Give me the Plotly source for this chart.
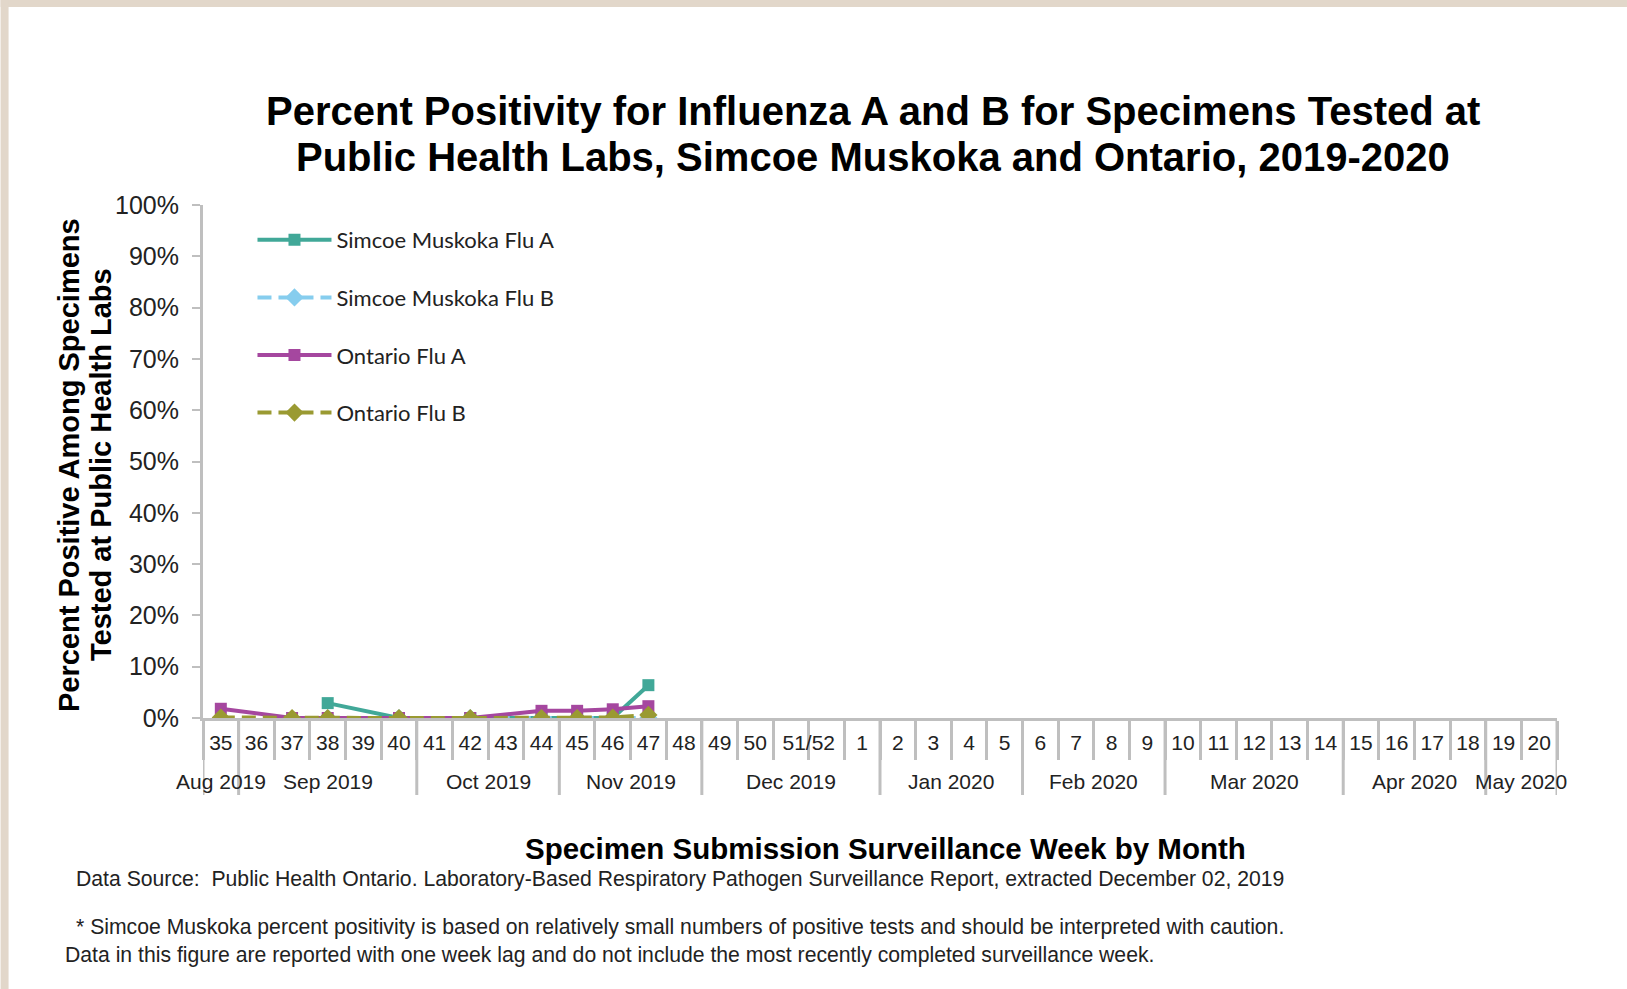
import plotly.graph_objects as go

# ---------------- data ----------------
weeks = ["35", "36", "37", "38", "39", "40", "41", "42", "43", "44", "45", "46", "47", "48",
         "49", "50", "51", "52", "1", "2", "3", "4", "5", "6", "7", "8", "9", "10", "11",
         "12", "13", "14", "15", "16", "17", "18", "19", "20"]
month_labels = ["Aug 2019", "Sep 2019", "Oct 2019", "Nov 2019", "Dec 2019", "Jan 2020",
                "Feb 2020", "Mar 2020", "Apr 2020", "May 2020"]
month_first_week = ["35", "36", "41", "45", "49", "2", "6", "10", "15", "19"]
month_last_week = ["35", "40", "44", "48", "1", "5", "9", "14", "18", "20"]
y_ticks = [0, 10, 20, 30, 40, 50, 60, 70, 80, 90, 100]
y_tick_labels = ["0%", "10%", "20%", "30%", "40%", "50%", "60%", "70%", "80%", "90%", "100%"]

N = None
simcoe_flu_a = [N, N, N, 2.9, N, 0.0, N, 0.0, N, 0.0, 0.0, 0.0, 6.4] + [N] * 25
simcoe_flu_b = [N, N, N, 0.0, N, 0.0, N, 0.0, N, 0.0, 0.0, 0.0, 0.0] + [N] * 25
ontario_flu_a = [1.8, N, 0.0, 0.0, N, 0.0, N, 0.0, N, 1.4, 1.4, 1.7, 2.3] + [N] * 25
ontario_flu_b = [0.1, N, 0.0, 0.0, N, 0.0, N, 0.0, N, 0.0, 0.0, 0.1, 0.6] + [N] * 25

series_names = ["Simcoe Muskoka Flu A", "Simcoe Muskoka Flu B", "Ontario Flu A", "Ontario Flu B"]
series_values = [simcoe_flu_a, simcoe_flu_b, ontario_flu_a, ontario_flu_b]
series_colors = ["#41A898", "#86CDEE", "#A5479F", "#9A9A32"]
series_symbols = ["square", "diamond", "square", "diamond"]
series_dash = ["solid", "14px,7px", "solid", "14px,7px"]

title_lines = ["Percent Positivity for Influenza A and B for Specimens Tested at",
               "Public Health Labs, Simcoe Muskoka and Ontario, 2019-2020"]
y_title_lines = ["Percent Positive Among Specimens", "Tested at Public Health Labs"]
x_title = "Specimen Submission Surveillance Week by Month"
source_text = "Data Source:  Public Health Ontario. Laboratory-Based Respiratory Pathogen Surveillance Report, extracted December 02, 2019"
note_lines = ["* Simcoe Muskoka percent positivity is based on relatively small numbers of positive tests and should be interpreted with caution.",
              "Data in this figure are reported with one week lag and do not include the most recently completed surveillance week."]

# ---------------- layout geometry ----------------
W, H = 1627, 989
L, R = 202.5, 1557.0
T, B = 205.0, 718.0
PW, PH = R - L, B - T


def px(xpix):
    return (xpix - L) / PW


def py(ypix):
    return (B - ypix) / PH


GRAY = "#BFBFBF"
FONT = "Liberation Sans, Arial, sans-serif"

x_idx = list(range(len(weeks)))

fig = go.Figure()
for name, vals, col, sym, dash in zip(series_names, series_values, series_colors,
                                      series_symbols, series_dash):
    fig.add_trace(go.Scatter(
        x=x_idx, y=vals, name=name, mode="lines+markers", connectgaps=True,
        line=dict(color=col, width=4, dash=dash),
        marker=dict(symbol=sym, size=12 if sym == "square" else 14, color=col),
        legendgroup=name,
    ))

# tick labels for weeks (51 and 52 share one label)
tickvals, ticktext = [], []
for i, w in enumerate(weeks):
    if w == "51":
        tickvals.append(i + 0.5)
        ticktext.append("51/52")
    elif w == "52":
        continue
    else:
        tickvals.append(i)
        ticktext.append(w)

shapes = []
annotations = []

# month dividers and labels
boundaries = [-0.5]
for first, last, lab in zip(month_first_week, month_last_week, month_labels):
    a = weeks.index(first) - 0.5
    b = weeks.index(last) + 0.5
    boundaries.append(b)
    annotations.append(dict(x=(a + b) / 2, y=py(781), xref="x", yref="paper", text=lab,
                            showarrow=False, xanchor="center", yanchor="middle",
                            font=dict(size=21, color="#222222", family=FONT)))
for bnd in boundaries:
    shapes.append(dict(type="line", xref="x", yref="paper", x0=bnd, x1=bnd, y0=0,
                       y1=py(795), line=dict(color=GRAY, width=3), layer="below"))

# frame
BEIGE = "#E2D7CA"
shapes.append(dict(type="rect", xref="paper", yref="paper", x0=px(0), x1=px(W), y0=py(0),
                   y1=py(7), fillcolor=BEIGE, line=dict(width=0), layer="below"))
shapes.append(dict(type="rect", xref="paper", yref="paper", x0=px(0), x1=px(8), y0=py(0),
                   y1=py(H), fillcolor=BEIGE, line=dict(width=0), layer="below"))

# titles
for txt, yc in zip(title_lines, [111, 157]):
    annotations.append(dict(x=px(873), y=py(yc), xref="paper", yref="paper", text="<b>%s</b>" % txt,
                            showarrow=False, xanchor="center", yanchor="middle",
                            font=dict(size=40, color="#000000", family=FONT)))
for txt, xc in zip(y_title_lines, [68.5, 100.5]):
    annotations.append(dict(x=px(xc), y=py(465), xref="paper", yref="paper", text="<b>%s</b>" % txt,
                            showarrow=False, xanchor="center", yanchor="middle", textangle=-90,
                            font=dict(size=29, color="#000000", family=FONT)))
annotations.append(dict(x=px(885), y=py(848), xref="paper", yref="paper", text="<b>%s</b>" % x_title,
                        showarrow=False, xanchor="center", yanchor="middle",
                        font=dict(size=29.5, color="#000000", family=FONT)))
annotations.append(dict(x=px(73), y=py(879), xref="paper", yref="paper", text=source_text,
                        showarrow=False, xanchor="left", yanchor="middle",
                        font=dict(size=21.2, color="#222222", family=FONT)))
for txt, xl, yc in zip(note_lines, [73, 62], [927, 955]):
    annotations.append(dict(x=px(xl), y=py(yc), xref="paper", yref="paper", text=txt,
                            showarrow=False, xanchor="left", yanchor="middle",
                            font=dict(size=21.2, color="#222222", family=FONT)))

fig.update_layout(
    width=W, height=H,
    margin=dict(l=L, r=W - R, t=T, b=H - B, pad=0),
    paper_bgcolor="white", plot_bgcolor="white",
    font=dict(family=FONT, color="#222222"),
    showlegend=True,
    legend=dict(x=px(252), y=py(219), xanchor="left", yanchor="top",
                bgcolor="rgba(0,0,0,0)", itemwidth=74, tracegroupgap=26,
                font=dict(family="Lato, Carlito, sans-serif", size=22, color="#222222"),
                traceorder="grouped"),
    shapes=shapes, annotations=annotations,
    xaxis=dict(range=[-0.5, len(weeks) - 0.5], tickmode="array", tickvals=tickvals,
               ticktext=ticktext, ticks="", showgrid=False, zeroline=False,
               showline=True, linecolor=GRAY, linewidth=3,
               tickfont=dict(size=21, color="#222222", family=FONT),
               ticklabelstandoff=4,
               minor=dict(tickmode="array", tickvals=[i - 0.5 for i in range(len(weeks) + 1)],
                          ticks="outside", ticklen=39, tickwidth=3, tickcolor=GRAY,
                          showgrid=False)),
    yaxis=dict(range=[0, 100], tickmode="array", tickvals=y_ticks, ticktext=y_tick_labels,
               ticks="outside", ticklen=8, tickwidth=2, tickcolor=GRAY,
               showgrid=False, zeroline=False, showline=True, linecolor=GRAY, linewidth=3,
               tickfont=dict(size=25, color="#222222", family=FONT),
               ticklabelstandoff=8),
)

fig.write_html("out.html", config={"displayModeBar": False},
               post_script="document.body.style.margin='0px';")
